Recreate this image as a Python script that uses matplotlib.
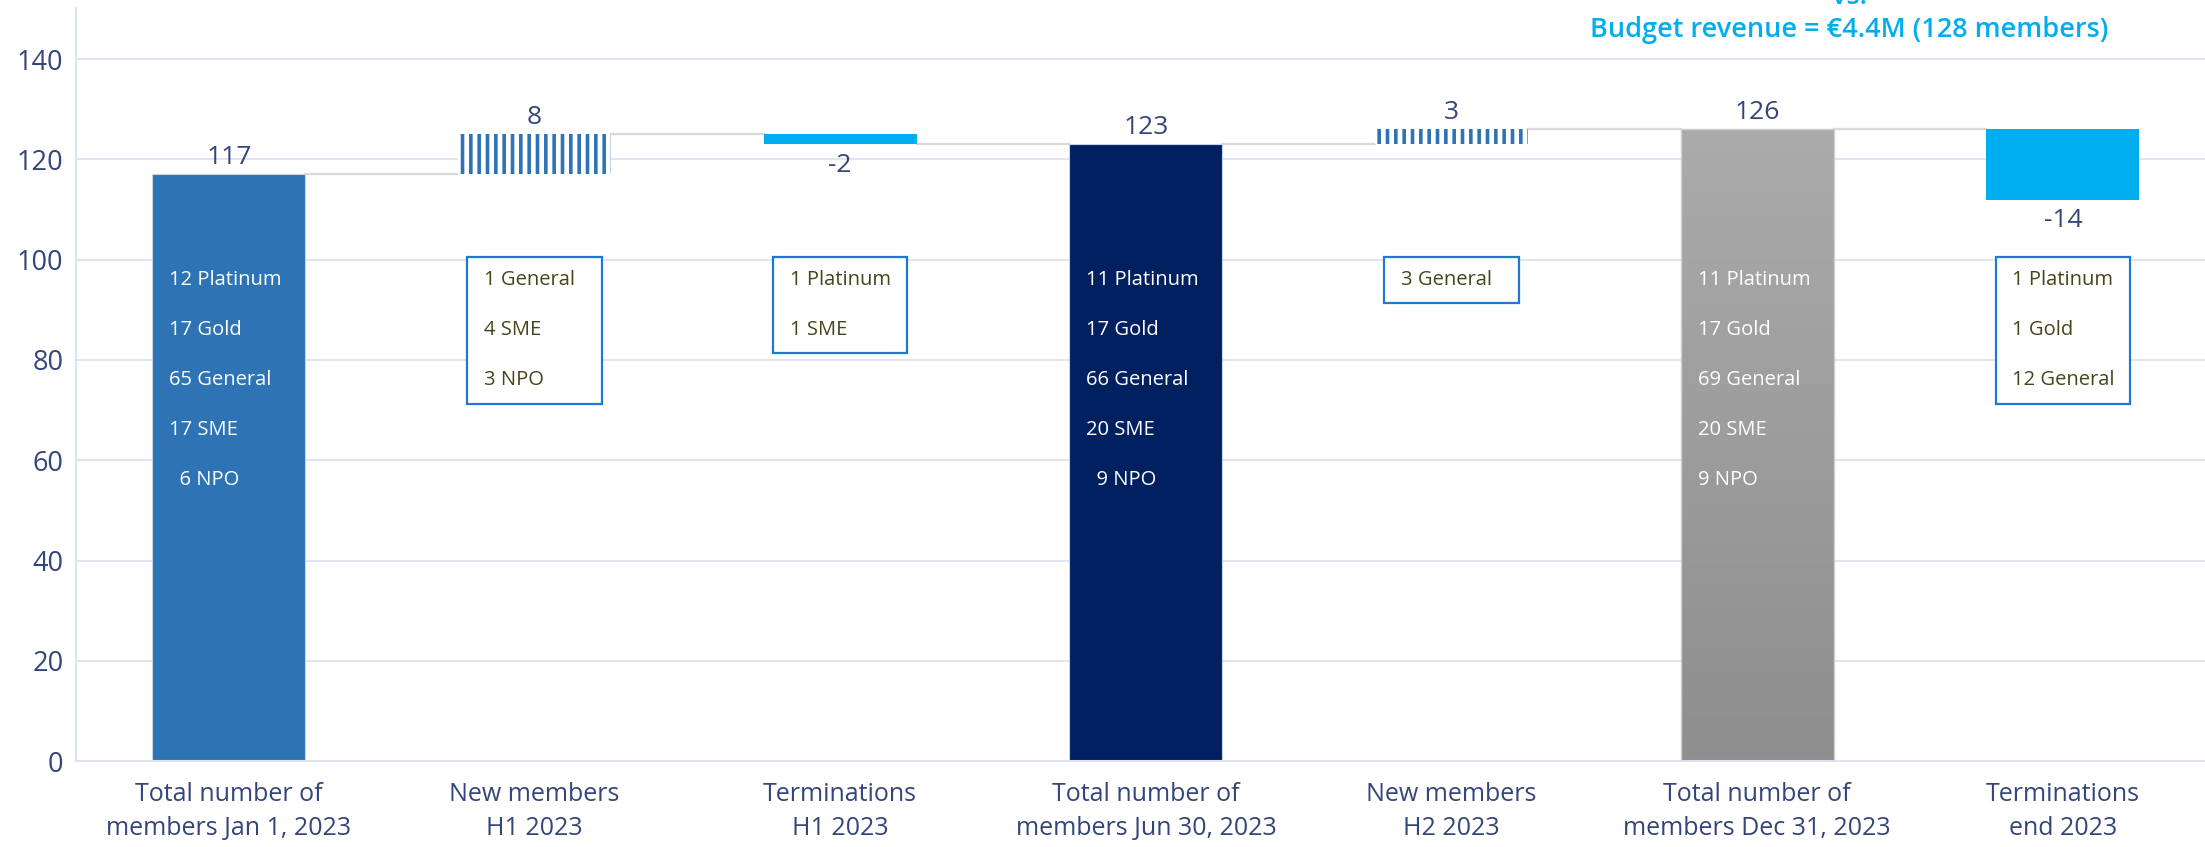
import numpy as np
import matplotlib
matplotlib.use('Agg')
import matplotlib.pyplot as plt
from matplotlib.colors import LinearSegmentedColormap
from matplotlib.patches import Rectangle

plt.rcParams['font.family'] = ['Open Sans', 'DejaVu Sans']
plt.rcParams['hatch.linewidth'] = 2.6

categories = ['Total number of\nmembers Jan 1, 2023', 'New members\nH1 2023', 'Terminations\nH1 2023',
              'Total number of\nmembers Jun 30, 2023', 'New members\nH2 2023',
              'Total number of\nmembers Dec 31, 2023', 'Terminations\nend 2023']
values = [117, 8, -2, 123, 3, 126, -14]
kinds = ['total', 'new', 'term', 'total', 'new', 'total', 'term']
breakdown = [
    ['12 Platinum', '17 Gold', '65 General', '17 SME', '  6 NPO'],
    ['1 General', '4 SME', '3 NPO'],
    ['1 Platinum', '1 SME'],
    ['11 Platinum', '17 Gold', '66 General', '20 SME', '  9 NPO'],
    ['3 General'],
    ['11 Platinum', '17 Gold', '69 General', '20 SME', '9 NPO'],
    ['1 Platinum', '1 Gold', '12 General'],
]
total_colors = ['#2E74B5', '#002060', None]
yticks = [0, 20, 40, 60, 80, 100, 120, 140]

txt_col = '#34457A'
grid_col = '#DCE3F1'
box_col = '#1F78D1'
box_txt = '#45451A'
cyan = '#00AEEF'
blue = '#2E74B5'

fig = plt.figure(figsize=(22.05, 8.47), dpi=100)
ax = fig.add_axes([0.0345, 0.1015, 0.9655, 0.889])

w = 0.5
x = np.arange(len(values))
level = 0
ends = []
ti = 0
for i, (v, k) in enumerate(zip(values, kinds)):
    if k == 'total':
        bottom, top = 0, v
        level = v
        col = total_colors[ti]
        ti += 1
        if col is None:
            grad = np.linspace(0, 1, 256).reshape(-1, 1)
            cmap = LinearSegmentedColormap.from_list('g', ['#8E8E8E', '#ABABAB'])
            ax.imshow(grad, extent=(i - w / 2, i + w / 2, 0, v), origin='lower', aspect='auto',
                      cmap=cmap, zorder=2)
            ax.add_patch(Rectangle((i - w / 2, 0), w, v, fill=False, edgecolor='#D0D0D0', lw=1, zorder=3))
        else:
            ax.bar(i, v, width=w, color=col, edgecolor='#C9D3E6', linewidth=0.8, zorder=2)
        ax.annotate(str(v), (i, v), xytext=(0, 3), textcoords='offset points',
                    ha='center', va='bottom', fontsize=19, color=txt_col)
    elif k == 'new':
        bottom, top = level, level + v
        ax.bar(i, v, bottom=level, width=w, facecolor='white', edgecolor=blue, linewidth=0,
               hatch='||', zorder=2)
        ax.annotate(str(v), (i, top), xytext=(0, 3), textcoords='offset points',
                    ha='center', va='bottom', fontsize=19, color=txt_col)
        level = top
    else:
        top, bottom = level, level + v
        ax.bar(i, v, bottom=level, width=w, color=cyan, linewidth=0, zorder=2)
        ax.annotate(str(v), (i, bottom), xytext=(0, -6), textcoords='offset points',
                    ha='center', va='top', fontsize=19, color=txt_col)
        level = bottom
    ends.append(level)

# connectors
for i in range(len(values) - 1):
    ax.plot([i + w / 2, i + 1 - w / 2], [ends[i], ends[i]], color='#D9D9D9', lw=1.6, zorder=1.5)

# breakdown texts
row_y = [96, 86, 76, 66, 56]
for i, (k, lines) in enumerate(zip(kinds, breakdown)):
    if k == 'total':
        for j, s in enumerate(lines):
            ax.text(i - 0.195, row_y[j], s, ha='left', va='center', fontsize=14.5, color='white', zorder=4)
    else:
        n = len(lines)
        top = 100.5
        h = 10 * n - 0.8
        ax.add_patch(Rectangle((i - 0.22, top - h), 0.44, h, facecolor='white', edgecolor=box_col,
                               lw=1.6, zorder=3))
        for j, s in enumerate(lines):
            ax.text(i - 0.165, row_y[j], s, ha='left', va='center', fontsize=14.5, color=box_txt, zorder=4)

ax.set_xlim(-0.5, 6.465)
ax.set_ylim(0, 150.2)
ax.set_yticks(yticks)
ax.set_xticks(x)
ax.set_xticklabels(categories, fontsize=18, color=txt_col, linespacing=1.5)
ax.tick_params(axis='y', labelsize=19.5, labelcolor=txt_col, length=0, pad=9)
ax.tick_params(axis='x', length=0, pad=15)
ax.yaxis.grid(True, color=grid_col, lw=1.3, zorder=0)
ax.set_axisbelow(True)
for s in ['top', 'right']:
    ax.spines[s].set_visible(False)
for s in ['left', 'bottom']:
    ax.spines[s].set_color(grid_col)
    ax.spines[s].set_linewidth(1.5)

fig.text(0.8386, 0.9646, 'Budget revenue = €4.4M (128 members)', ha='center', va='center',
         fontsize=19.5, color=cyan, fontweight='semibold')
fig.text(0.8386, 1.003, 'vs.', ha='center', va='center', fontsize=19.5, color=cyan, fontweight='semibold')

fig.savefig('out.png', dpi=100)
